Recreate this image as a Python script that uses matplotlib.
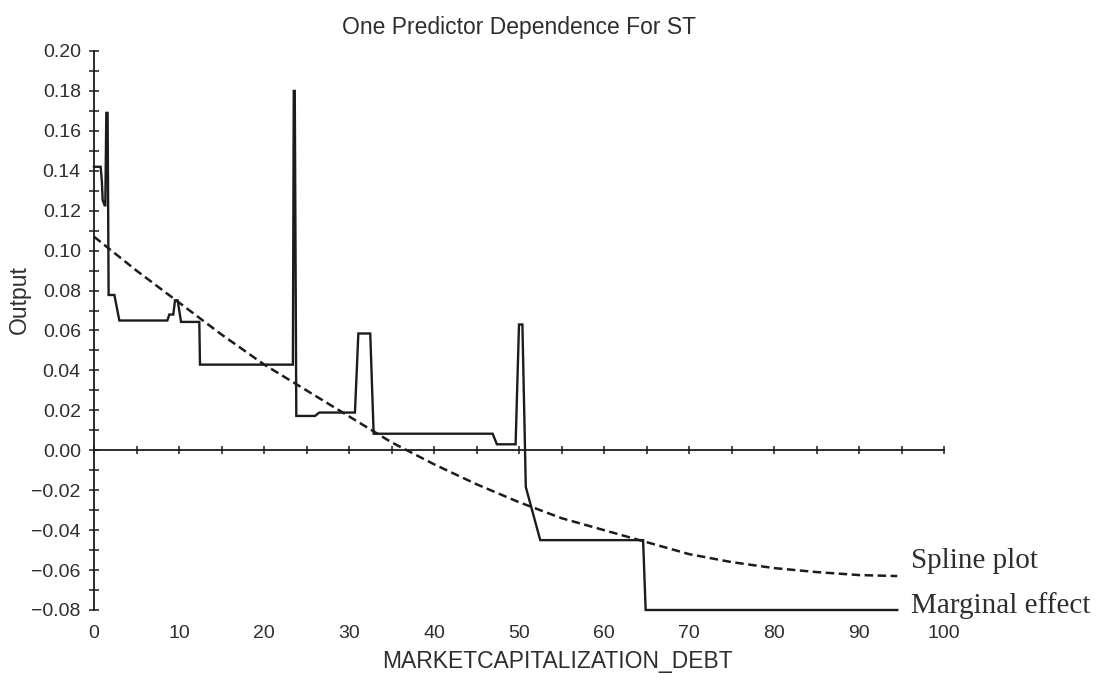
import matplotlib
matplotlib.use("Agg")
import matplotlib.pyplot as plt
from matplotlib.ticker import MultipleLocator, FuncFormatter

# ---- data ----
marginal_x = [0.0, 0.78, 0.93, 1.02, 1.25, 1.33, 1.45, 1.6, 1.72, 2.4, 2.98, 8.63, 8.86,
              9.33, 9.53, 9.84, 10.24, 12.39, 12.47, 23.40, 23.50, 23.62, 23.80, 26.0,
              26.5, 30.7, 31.1, 32.5, 32.9, 46.9, 47.4, 49.6, 50.0, 50.4, 50.8, 52.5,
              64.6, 64.9, 94.5]
marginal_y = [0.142, 0.142, 0.1345, 0.1253, 0.1227, 0.1227, 0.169, 0.169, 0.0778, 0.0778,
              0.065, 0.065, 0.068, 0.068, 0.0751, 0.0751, 0.0643, 0.0643, 0.0429, 0.0429,
              0.180, 0.180, 0.0172, 0.0172, 0.0189, 0.0189, 0.0585, 0.0585, 0.0083, 0.0083,
              0.0030, 0.0030, 0.063, 0.063, -0.0184, -0.045, -0.045, -0.080, -0.080]

spline_x = [0, 5, 10, 15, 20, 25, 30, 35, 40, 45, 50, 55, 60, 65, 70, 75, 80, 85, 90, 94.5]
spline_y = [0.107, 0.090, 0.074, 0.058, 0.043, 0.030, 0.017, 0.004, -0.007, -0.017,
            -0.026, -0.034, -0.040, -0.046, -0.052, -0.056, -0.059, -0.061, -0.0625, -0.063]

x_ticks = list(range(0, 101, 10))
title = "One Predictor Dependence For ST"
xlabel = "MARKETCAPITALIZATION_DEBT"
ylabel = "Output"
label_spline = "Spline plot"
label_marginal = "Marginal effect"

# ---- style ----
plt.rcParams['font.family'] = ['Liberation Sans', 'DejaVu Sans']
txt = '#2e2e2e'
ink = '#1c1c1c'

fig = plt.figure(figsize=(11, 6.81), dpi=100)
ax = fig.add_axes([94 / 1100, 1 - 610 / 681, 850 / 1100, 559 / 681])

ax.plot(marginal_x, marginal_y, color=ink, lw=1.7, solid_joinstyle='miter', zorder=3,
        clip_on=False)
ax.plot(spline_x, spline_y, color=ink, lw=1.8, linestyle=(0, (3.4, 1.8)), zorder=3,
        clip_on=False)

ax.set_xlim(0, 100)
ax.set_ylim(-0.08, 0.20)

for s in ('top', 'right'):
    ax.spines[s].set_visible(False)
ax.spines['bottom'].set_position(('data', 0))
for s in ('left', 'bottom'):
    ax.spines[s].set_color(ink)
    ax.spines[s].set_linewidth(1.3)

ax.xaxis.set_major_locator(MultipleLocator(5))
ax.tick_params(axis='x', which='both', direction='inout', length=6, width=1.1,
               color=ink, labelbottom=False)
ax.yaxis.set_major_locator(MultipleLocator(0.02))
ax.yaxis.set_minor_locator(MultipleLocator(0.01))
ax.tick_params(axis='y', which='both', direction='inout', length=7, width=1.1,
               color=ink, labelsize=14, labelcolor=txt, pad=6)


def yfmt(v, p):
    if abs(v) < 1e-9:
        v = 0.0
    return f"{v:.2f}".replace('-', '\u2212')


ax.yaxis.set_major_formatter(FuncFormatter(yfmt))

sec = ax.secondary_xaxis('bottom')
sec.set_xticks(x_ticks)
sec.tick_params(length=0, pad=11, labelsize=14, labelcolor=txt)
sec.spines['bottom'].set_visible(False)

ax.set_title(title, fontsize=16.5, color=txt, pad=12)
ax.set_xlabel(xlabel, fontsize=16.5, color=txt)
ax.xaxis.set_label_coords(0.545, -0.072)
ax.set_ylabel(ylabel, fontsize=16.5, color=txt)
ax.yaxis.set_label_coords(-0.074, 0.555)

ax.text(96.1, spline_y[-1] + 0.0039, label_spline, family=['Liberation Serif', 'DejaVu Serif'],
        fontsize=21, color=txt, va='baseline', ha='left', clip_on=False)
ax.text(96.1, marginal_y[-1] - 0.0017, label_marginal, family=['Liberation Serif', 'DejaVu Serif'],
        fontsize=21, color=txt, va='baseline', ha='left', clip_on=False)

fig.savefig('out.png', dpi=100, facecolor='white')
